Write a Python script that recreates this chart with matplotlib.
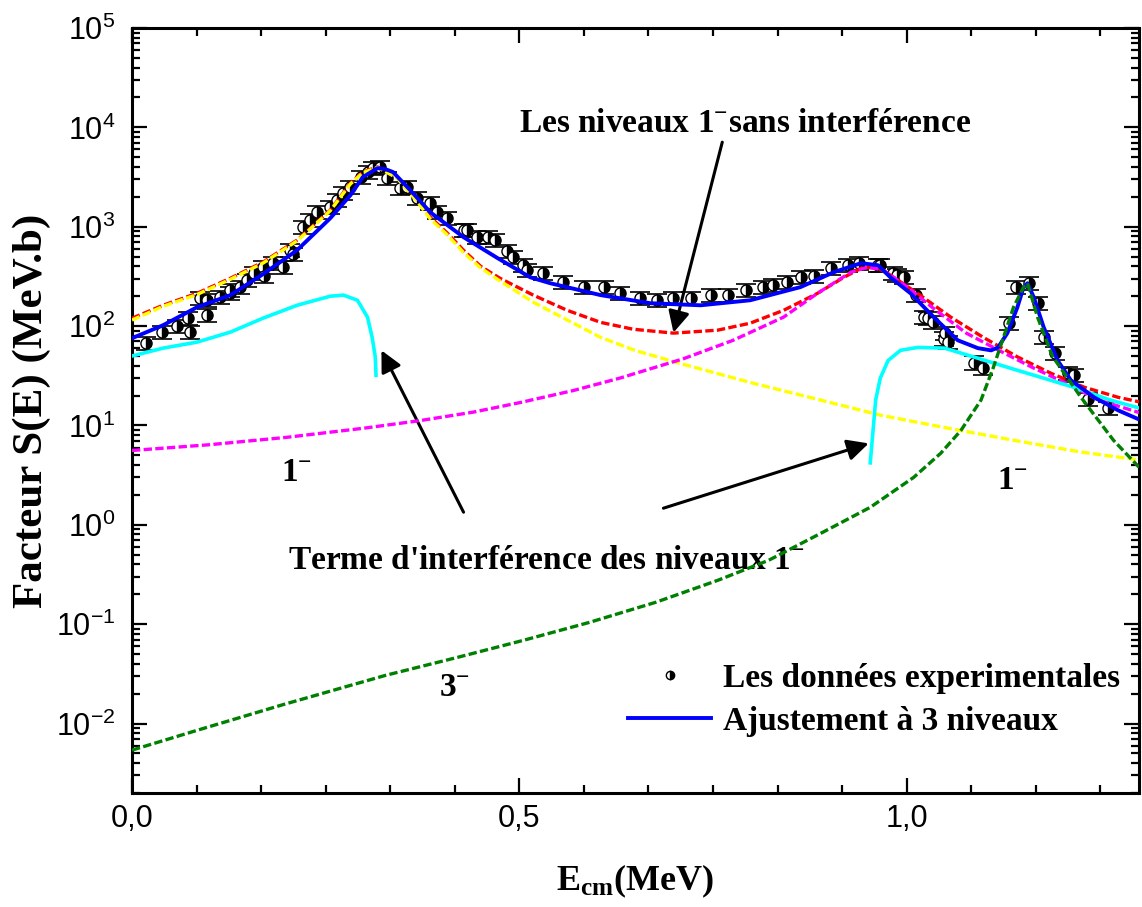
import numpy as np
import matplotlib
matplotlib.use("Agg")
import matplotlib.pyplot as plt
from matplotlib.ticker import FixedLocator, MultipleLocator, LogLocator, NullFormatter
from matplotlib.lines import Line2D

plt.rcParams['font.family'] = ['Liberation Sans', 'DejaVu Sans']
plt.rcParams['mathtext.fontset'] = 'custom'
plt.rcParams['mathtext.rm'] = 'Liberation Serif:bold'
plt.rcParams['mathtext.bf'] = 'Liberation Serif:bold'
plt.rcParams['mathtext.it'] = 'Liberation Serif:bold'

# donnees experimentales (E en MeV, S en MeV.b)
data_x = [0.018, 0.039, 0.058, 0.072, 0.075, 0.088, 0.097, 0.097, 0.114, 0.127,
          0.127, 0.140, 0.149, 0.157, 0.169, 0.170, 0.182, 0.195, 0.204, 0.208,
          0.221, 0.230, 0.239, 0.256, 0.265, 0.273, 0.282, 0.295, 0.304, 0.311,
          0.320, 0.329, 0.346, 0.355, 0.368, 0.385, 0.394, 0.407, 0.428, 0.433,
          0.446, 0.459, 0.469, 0.484, 0.492, 0.505, 0.510, 0.531, 0.557, 0.583,
          0.609, 0.630, 0.656, 0.678, 0.699, 0.721, 0.747, 0.769, 0.792, 0.815,
          0.828, 0.846, 0.863, 0.880, 0.902, 0.924, 0.938, 0.963, 0.966, 0.983,
          0.988, 0.996, 1.012, 1.022, 1.028, 1.034, 1.048, 1.050, 1.053, 1.087,
          1.098, 1.132, 1.141, 1.158, 1.169, 1.177, 1.192, 1.208, 1.216, 1.234,
          1.260]
data_y = [67, 87, 100, 120, 87, 190, 128, 182, 196, 214,
          230, 245, 290, 340, 392, 320, 430, 392, 580, 537,
          990, 1165, 1400, 1575, 1850, 2180, 2505, 3160, 3550, 3890,
          3980, 3080, 2450, 2505, 1940, 1730, 1400, 1220, 925, 930,
          785, 790, 740, 575, 494, 410, 366, 341, 277, 247,
          247, 214, 191, 182, 191, 191, 205, 205, 230, 247,
          258, 277, 311, 320, 383, 410, 430, 410, 410, 341,
          325, 311, 205, 123, 120, 110, 75, 85, 69, 43,
          38, 107, 245, 270, 170, 78, 54, 34, 32, 18.6,
          15]
rel_err = 0.15

# ajustement a 3 niveaux
fit_x = [0.0, 0.040, 0.084, 0.127, 0.169, 0.213, 0.256, 0.282, 0.298, 0.317,
         0.327, 0.337, 0.359, 0.385, 0.428, 0.472, 0.514, 0.540, 0.605, 0.669,
         0.734, 0.798, 0.863, 0.906, 0.941, 0.963, 0.979, 1.005, 1.035, 1.066,
         1.092, 1.109, 1.118, 1.130, 1.143, 1.151, 1.156, 1.164, 1.177, 1.195,
         1.212, 1.242, 1.273, 1.300]
fit_y = [75.5, 102, 155, 205, 333, 580, 1220, 2080, 3160, 3890,
         3800, 3550, 2340, 1400, 785, 483, 310, 270, 205, 170,
         162, 182, 247, 349, 430, 410, 310, 214, 123, 72,
         60, 57, 61, 85, 155, 247, 270, 196, 97, 45,
         28.5, 19.2, 14.2, 11.5]

# niveaux 1- sans interference
red_x = [0.0, 0.040, 0.084, 0.127, 0.169, 0.213, 0.256, 0.282, 0.298, 0.317,
         0.342, 0.368, 0.385, 0.407, 0.428, 0.450, 0.475, 0.518, 0.562, 0.605,
         0.647, 0.699, 0.756, 0.798, 0.841, 0.885, 0.919, 0.944, 0.963, 0.979,
         1.014, 1.057, 1.099, 1.143, 1.186, 1.229, 1.273, 1.300]
red_y = [120, 162, 214, 303, 440, 733, 1470, 2750, 3550, 4000,
         3160, 1850, 1250, 863, 580, 400, 303, 205, 144, 109,
         93, 85, 91, 107, 144, 214, 310, 392, 383, 326,
         214, 123, 77, 49, 33.6, 24.3, 19.2, 17.3]

# premier niveau 1-
yel_x = [0.0, 0.040, 0.084, 0.127, 0.169, 0.213, 0.256, 0.282, 0.298, 0.317,
         0.342, 0.368, 0.385, 0.407, 0.428, 0.450, 0.475, 0.518, 0.562, 0.605,
         0.649, 0.708, 0.802, 0.889, 0.966, 1.053, 1.138, 1.225, 1.300]
yel_y = [115, 158, 208, 296, 430, 720, 1450, 2700, 3500, 3950,
         3100, 1800, 1200, 830, 550, 385, 285, 174, 115, 77,
         57, 42, 26.6, 18, 12.7, 9.4, 7.1, 5.4, 4.5]

# second niveau 1-
mag_x = [0.0, 0.1, 0.2, 0.3, 0.372, 0.440, 0.501, 0.570, 0.630, 0.712,
         0.776, 0.841, 0.885, 0.928, 0.950, 0.970, 1.001, 1.035, 1.077, 1.119,
         1.162, 1.206, 1.248, 1.300]
mag_y = [5.6, 6.4, 7.6, 9.4, 11.2, 13.6, 17, 22.5, 30, 47,
         72, 123, 214, 349, 392, 366, 247, 150, 85, 57,
         38.5, 26.6, 18, 13.5]

# terme d'interference (deux branches)
cyan1_x = [0.0, 0.040, 0.084, 0.127, 0.169, 0.213, 0.256, 0.273, 0.291, 0.304,
           0.310, 0.314, 0.315]
cyan1_y = [50, 60, 69, 87, 120, 162, 200, 205, 182, 123,
           77, 49, 32]
cyan2_x = [0.953, 0.957, 0.960, 0.966, 0.976, 0.992, 1.014, 1.049, 1.092, 1.134,
           1.177, 1.220, 1.263, 1.300]
cyan2_y = [4.2, 9.6, 18, 30, 45, 57, 61, 60, 47.5, 37.7,
           29.9, 23.7, 18, 15]

# niveau 3-
grn_x = [0.0, 0.083, 0.195, 0.327, 0.420, 0.505, 0.590, 0.676, 0.756, 0.822,
         0.889, 0.953, 1.009, 1.044, 1.070, 1.096, 1.112, 1.125, 1.138, 1.151,
         1.156, 1.169, 1.188, 1.225, 1.267, 1.300]
grn_y = [0.0054, 0.0085, 0.0155, 0.0305, 0.0463, 0.0687, 0.104, 0.166, 0.276, 0.44,
         0.82, 1.5, 3.0, 5.25, 8.9, 18, 38.5, 77, 155, 247,
         270, 123, 50, 19.2, 7.1, 3.8]

xticks = [0.0, 0.5, 1.0]
xtick_labels = ['0,0', '0,5', '1,0']

fig = plt.figure(figsize=(11.42, 9.07), dpi=100)
ax = fig.add_axes([0.1156, 0.1257, 0.8818, 0.8434])

serif = {'family': 'Liberation Serif', 'weight': 'bold'}
dash = (0, (2.5, 1.0))

data_y = np.array(data_y)
ax.errorbar(data_x, data_y, yerr=rel_err * data_y, fmt='none', ecolor='black',
            elinewidth=1.2, capsize=7, capthick=1.2, zorder=2)
ax.plot(data_x, data_y, 'o', ms=8, mec='black', mew=1.0, mfc='black',
        fillstyle='right', markerfacecoloralt='white', zorder=3)

ax.plot(red_x, red_y, color='#ff0000', lw=2.4, ls=dash, zorder=4)
ax.plot(yel_x, yel_y, color='#ffff00', lw=2.4, ls=dash, zorder=5)
ax.plot(mag_x, mag_y, color='#ff00ff', lw=2.4, ls=dash, zorder=6)
ax.plot(cyan1_x, cyan1_y, color='#00ffff', lw=2.6, zorder=7)
ax.plot(cyan2_x, cyan2_y, color='#00ffff', lw=2.6, zorder=7)
ax.plot(fit_x, fit_y, color='#0000ff', lw=2.8, zorder=8)
ax.plot(grn_x, grn_y, color='#008000', lw=2.4, ls=dash, zorder=9)

ax.set_yscale('log')
ax.set_xlim(0, 1.3)
ax.set_ylim(2e-3, 1e5)

ax.xaxis.set_major_locator(FixedLocator(xticks))
ax.set_xticklabels(xtick_labels)
ax.xaxis.set_minor_locator(MultipleLocator(0.5 / 6))
ax.yaxis.set_major_locator(LogLocator(base=10, numticks=20))
ax.yaxis.set_minor_locator(LogLocator(base=10, subs=np.arange(2, 10), numticks=20))
ax.yaxis.set_minor_formatter(NullFormatter())
ax.xaxis.offsetText.set_visible(False)
ax.yaxis.offsetText.set_visible(False)

ax.tick_params(which='both', direction='in', top=True, right=True, width=1.6)
ax.tick_params(which='major', length=11, labelsize=22)
ax.tick_params(which='minor', length=6)
ax.tick_params(axis='x', pad=8)
ax.tick_params(axis='y', pad=12)
for s in ax.spines.values():
    s.set_linewidth(2.2)

ax.set_xlabel(r'E$_{\mathbf{cm}}$(MeV)', fontdict=serif, fontsize=26, va='center')
ax.xaxis.set_label_coords(0.5, -(881 - 793) / 765)
ax.set_ylabel('Facteur S(E) (MeV.b)', fontdict=serif, fontsize=31)
ax.yaxis.set_label_coords(-(132 - 51) / 1007, 0.5)

# annotations
ax.text(0.5, 11000, r'Les niveaux 1$^{-}$sans interférence', fontdict=serif,
        fontsize=24, ha='left', va='center')
ax.text(0.2016, 0.44, r"Terme d'interférence des niveaux 1$^{-}$", fontdict=serif,
        fontsize=24, ha='left', va='center')
ax.text(0.213, 3.4, r'1$^{-}$', fontdict=serif, fontsize=24, ha='center', va='center')
ax.text(1.137, 2.8, r'1$^{-}$', fontdict=serif, fontsize=24, ha='center', va='center')
ax.text(0.417, 0.023, r'3$^{-}$', fontdict=serif, fontsize=24, ha='center', va='center')

arrow = dict(arrowstyle='-|>', color='black', lw=2.2, mutation_scale=32,
             shrinkA=0, shrinkB=0)
ax.annotate('', xy=(0.699, 86), xytext=(0.762, 7100), arrowprops=arrow)
ax.annotate('', xy=(0.322, 57), xytext=(0.428, 1.34), arrowprops=arrow)
ax.annotate('', xy=(0.951, 6.6), xytext=(0.686, 1.47), arrowprops=arrow)

# legende
h_data = Line2D([], [], ls='none', marker='o', ms=6, mec='black', mfc='black',
                fillstyle='right', markerfacecoloralt='white')
h_fit = Line2D([], [], color='#0000ff', lw=2.8)
fig.legend([h_data, h_fit], ['Les données experimentales', 'Ajustement à 3 niveaux'],
           loc='upper left', bbox_to_anchor=(628 / 1142, 1 - 663 / 907),
           frameon=False, prop={'family': 'Liberation Serif', 'weight': 'bold', 'size': 24},
           handlelength=2.5, handletextpad=0.35, borderpad=0, borderaxespad=0,
           labelspacing=0.35)

fig.savefig('out.png', dpi=100)
